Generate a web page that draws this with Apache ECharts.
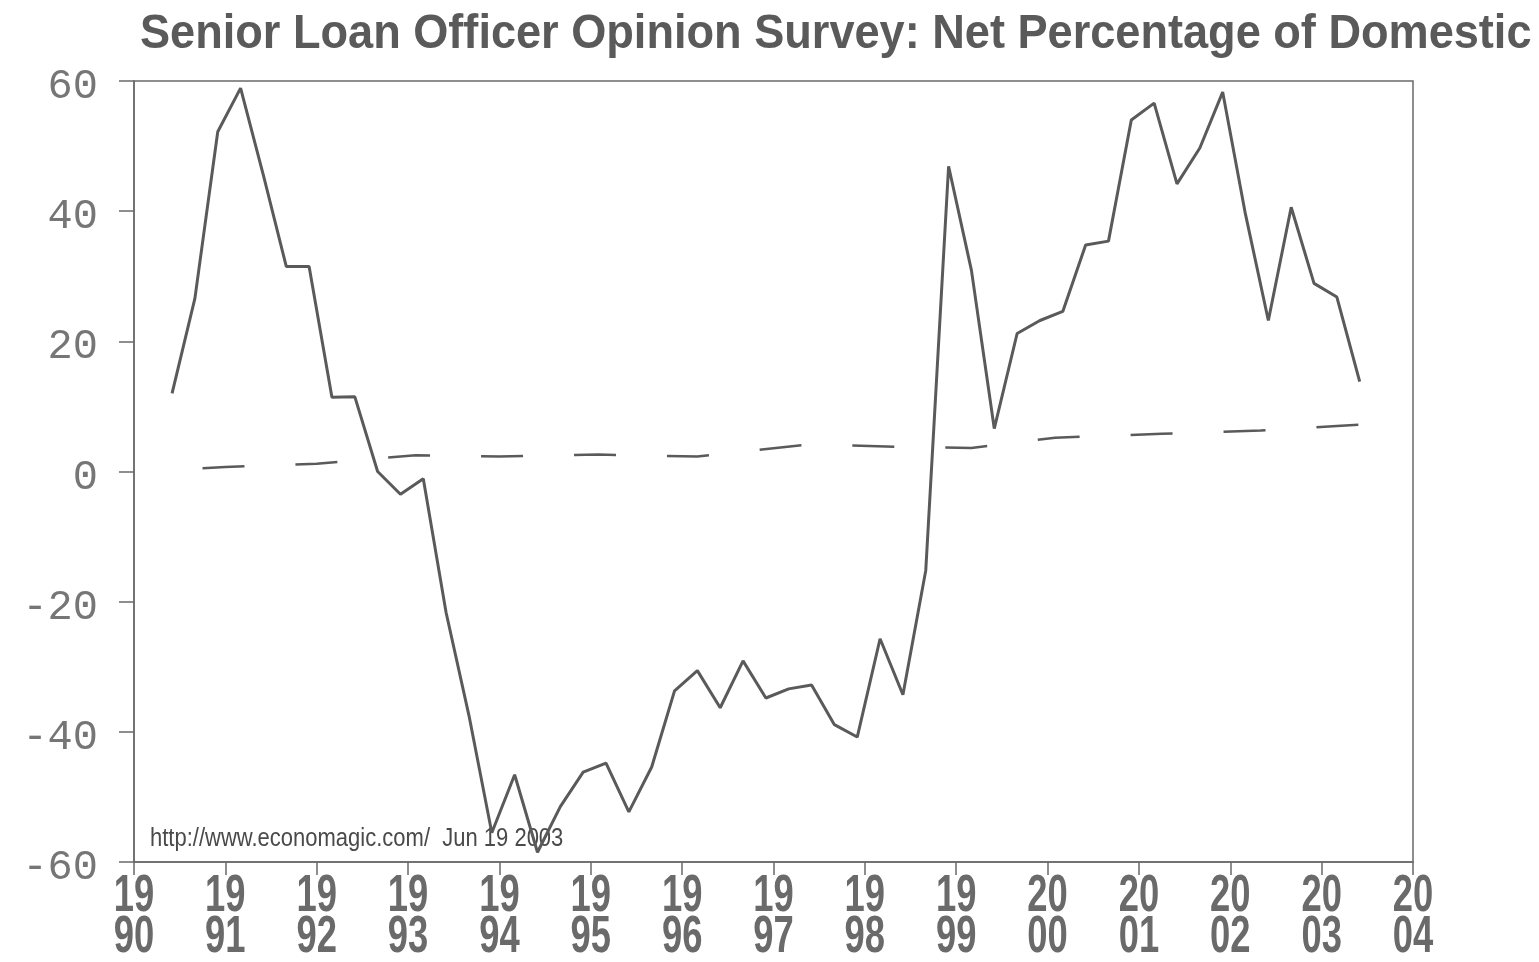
<!DOCTYPE html>
<html>
<head>
<meta charset="utf-8">
<title>Senior Loan Officer Opinion Survey</title>
<script src="https://cdn.jsdelivr.net/npm/echarts@6/dist/echarts.min.js"></script>
<style>
  html, body { margin: 0; padding: 0; background: #ffffff; }
  #chart { width: 1539px; height: 962px; }
</style>
</head>
<body>
<div id="chart"></div>
<script>
// Quarterly survey dates (YYYY-MM) and net percentage of domestic banks tightening
const surveyDates = [
  '1990-05','1990-08','1990-11',
  '1991-02','1991-05','1991-08','1991-11',
  '1992-02','1992-05','1992-08','1992-11',
  '1993-02','1993-05','1993-08','1993-11',
  '1994-02','1994-05','1994-08','1994-11',
  '1995-02','1995-05','1995-08','1995-11',
  '1996-02','1996-05','1996-08','1996-11',
  '1997-02','1997-05','1997-08','1997-11',
  '1998-02','1998-05','1998-08','1998-11',
  '1999-02','1999-05','1999-08','1999-11',
  '2000-02','2000-05','2000-08','2000-11',
  '2001-02','2001-05','2001-08','2001-11',
  '2002-02','2002-05','2002-08','2002-11',
  '2003-02','2003-05'
];
const netTightening = [
  12.0, 26.6, 52.2,
  58.9, 45.5, 31.5, 31.5,
  11.4, 11.5, 0.0, -3.5,
  -1.1, -21.7, -37.5, -55.5,
  -46.6, -58.5, -51.5, -46.2,
  -44.8, -52.3, -45.4, -33.7,
  -30.6, -36.3, -29.1, -34.8,
  -33.4, -32.8, -38.9, -40.8,
  -25.7, -34.3, -15.2, 46.9,
  30.9, 6.6, 21.2, 23.2,
  24.6, 34.8, 35.4, 54.0,
  56.6, 44.2, 49.7, 58.3,
  39.5, 23.2, 40.6, 28.9,
  26.8, 13.8
];

// Dashed reference series
const refDates = [
  '1990-09','1990-12','1991-12','1993-01','1993-12','1995-01','1996-02',
  '1997-05','1998-04','1999-02','2000-01','2001-03','2002-04','2003-02','2003-05'
];
const refValues = [
  0.5, 0.7, 1.2, 2.5, 2.3, 2.6, 2.3,
  4.2, 3.8, 3.6, 5.2, 5.8, 6.3, 7.0, 7.2
];

// Year tick labels along the bottom axis
const tickYears = [
  '1990','1991','1992','1993','1994','1995','1996',
  '1997','1998','1999','2000','2001','2002','2003','2004'
];

const chartTitle = 'Senior Loan Officer Opinion Survey: Net Percentage of Domestic';
const sourceNote = 'http://www.economagic.com/  Jun 19 2003';

// 'YYYY-MM' -> decimal year
function toYear(s) {
  const parts = s.split('-').map(Number);
  return parts[0] + parts[1] / 12;
}

const inkGray = '#5a5a5a';
const frameGray = '#6a6a6a';
const sansFamily = "'Liberation Sans', Arial, sans-serif";

const chart = echarts.init(document.getElementById('chart'), null, { renderer: 'canvas' });

chart.setOption({
  backgroundColor: '#ffffff',
  animation: false,
  grid: {
    left: 134,
    right: 126,
    top: 81,
    bottom: 100,
    show: true,
    borderColor: frameGray,
    borderWidth: 1.5,
    backgroundColor: 'transparent'
  },
  xAxis: {
    type: 'value',
    min: Number(tickYears[0]),
    max: Number(tickYears[tickYears.length - 1]),
    interval: 1,
    axisLine: { show: true, onZero: false, lineStyle: { color: frameGray, width: 1.5 } },
    axisTick: { show: true, inside: false, length: 13, lineStyle: { color: frameGray, width: 1.5 } },
    splitLine: { show: false },
    axisLabel: { show: false }
  },
  yAxis: {
    type: 'value',
    min: -60,
    max: 60,
    interval: 20,
    axisLine: { show: true, onZero: false, lineStyle: { color: frameGray, width: 1.5 } },
    axisTick: { show: true, inside: false, length: 15, lineStyle: { color: frameGray, width: 1.5 } },
    splitLine: { show: false },
    axisLabel: {
      margin: 36,
      verticalAlign: 'top',
      lineHeight: 12,
      fontFamily: "'Liberation Mono', 'DejaVu Sans Mono', monospace",
      fontSize: 42,
      color: '#767676'
    }
  },
  series: [
    {
      type: 'line',
      data: surveyDates.map((d, i) => [toYear(d), netTightening[i]]),
      showSymbol: false,
      lineStyle: { color: inkGray, width: 3 },
      z: 3
    },
    {
      type: 'line',
      data: refDates.map((d, i) => [toYear(d), refValues[i]]),
      showSymbol: false,
      lineStyle: { color: inkGray, width: 2.5, type: [42, 51], dashOffset: 0 },
      z: 2
    }
  ]
});

// Condensed text: title, source note and two-line year labels placed from the axis scale
const axisBottom = chart.convertToPixel({ yAxisIndex: 0 }, -60);
const plotLeft = chart.convertToPixel({ xAxisIndex: 0 }, Number(tickYears[0]));

const graphics = [
  {
    type: 'text',
    x: plotLeft + 6,
    y: 11,
    scaleX: 0.94,
    style: {
      text: chartTitle,
      fontFamily: sansFamily,
      fontWeight: 'bold',
      fontSize: 48,
      fill: '#5a5a5a',
      align: 'left',
      verticalAlign: 'top'
    }
  },
  {
    type: 'text',
    x: plotLeft + 16,
    y: chart.convertToPixel({ yAxisIndex: 0 }, -54.5),
    scaleX: 0.88,
    style: {
      text: sourceNote,
      fontFamily: sansFamily,
      fontSize: 25,
      fill: '#4a4a4a',
      align: 'left',
      verticalAlign: 'top'
    }
  }
];

tickYears.forEach(function (yr) {
  graphics.push({
    type: 'text',
    x: chart.convertToPixel({ xAxisIndex: 0 }, Number(yr)),
    y: axisBottom + 14,
    scaleX: 0.7,
    style: {
      text: yr.slice(0, 2) + '\n' + yr.slice(2),
      fontFamily: sansFamily,
      fontWeight: 'bold',
      fontSize: 52,
      lineHeight: 41,
      fill: '#6a6a6a',
      align: 'center',
      verticalAlign: 'top'
    }
  });
});

chart.setOption({ graphic: graphics });
</script>
</body>
</html>
